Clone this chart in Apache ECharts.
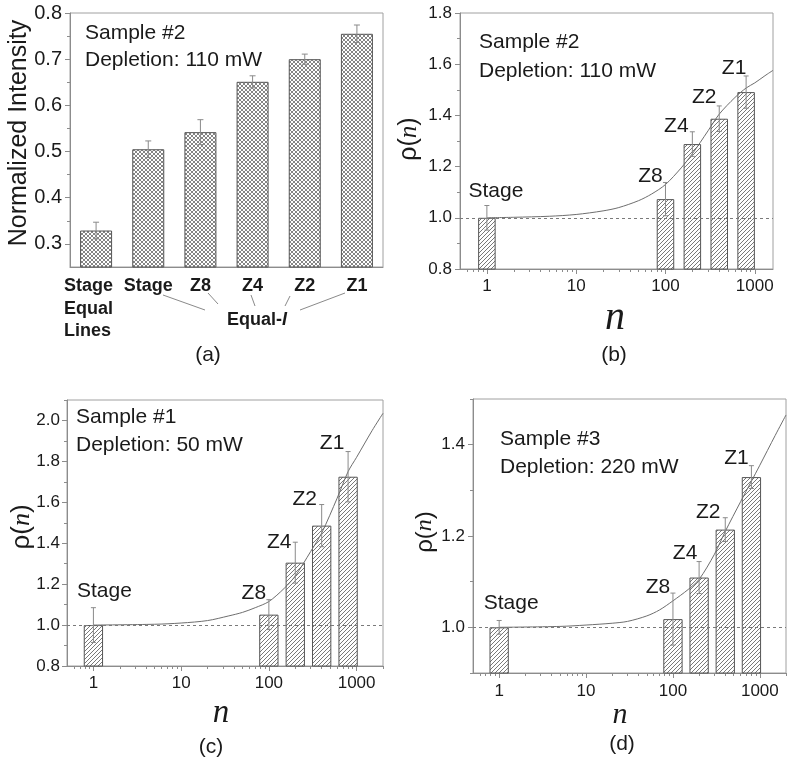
<!DOCTYPE html>
<html><head><meta charset="utf-8">
<script src="https://cdn.jsdelivr.net/npm/echarts@6/dist/echarts.min.js"></script>
<style>html,body{margin:0;padding:0;background:#fff}#c{width:787px;height:766px}</style>
</head><body><div id="c"></div>
<script>
// ---------- Data ----------
// Panel (a)
const aCategories = ['Stage\nEqual\nLines', 'Stage', 'Z8', 'Z4', 'Z2', 'Z1'];
const aValues = [0.329, 0.505, 0.542, 0.651, 0.700, 0.755];
const aErrors = [0.018, 0.018, 0.027, 0.013, 0.011, 0.019];
const aYTicks = [0.3, 0.4, 0.5, 0.6, 0.7, 0.8];
const aYMinor = [0.35, 0.45, 0.55, 0.65, 0.75];

// Panels (b)(c)(d): bars at n
const nValues = [1, 100, 200, 400, 800];
const barNames = ['Stage', 'Z8', 'Z4', 'Z2', 'Z1'];
const xTickLabels = [1, 10, 100, 1000];
const xMinorTicks = [0.6, 0.7, 0.8, 0.9, 2, 3, 4, 5, 6, 7, 8, 9, 20, 30, 40, 50, 60, 70, 80, 90,
                     200, 300, 400, 500, 600, 700, 800, 900, 2000];

// (b) Sample #2, 110 mW
const bValues = [1.000, 1.073, 1.288, 1.387, 1.491];
const bErrors = [0.048, 0.065, 0.048, 0.050, 0.063];
const bCurveN = [1, 2, 5, 10, 20, 30, 50, 70, 100, 150, 200, 300, 400, 600, 800, 1000, 1300, 1600];
const bCurveRho = [1.0, 1.002, 1.006, 1.013, 1.027, 1.04, 1.067, 1.093, 1.13, 1.195, 1.25, 1.34, 1.405, 1.47, 1.507, 1.527, 1.555, 1.576];
const bYTicks = [0.8, 1.0, 1.2, 1.4, 1.6, 1.8];
const bYMinor = [0.9, 1.1, 1.3, 1.5, 1.7];

// (c) Sample #1, 50 mW
const cValues = [1.000, 1.051, 1.305, 1.486, 1.725];
const cErrors = [0.085, 0.073, 0.100, 0.103, 0.123];
const cCurveN = [1, 5, 10, 20, 35, 50, 70, 100, 150, 200, 300, 400, 600, 800, 1000, 1500, 2000];
const cCurveRho = [1.0, 1.004, 1.01, 1.022, 1.045, 1.062, 1.085, 1.115, 1.18, 1.24, 1.36, 1.45, 1.62, 1.75, 1.82, 1.95, 2.035];
const cYTicks = [0.8, 1.0, 1.2, 1.4, 1.6, 1.8, 2.0];
const cYMinor = [0.9, 1.1, 1.3, 1.5, 1.7, 1.9, 2.1];

// (d) Sample #3, 220 mW
const dValues = [1.000, 1.018, 1.109, 1.214, 1.329];
const dErrors = [0.015, 0.057, 0.035, 0.026, 0.025];
const dCurveN = [1, 5, 10, 20, 30, 50, 70, 100, 150, 200, 300, 400, 600, 800, 1000, 1500, 2000];
const dCurveRho = [1.0, 1.002, 1.005, 1.009, 1.013, 1.025, 1.038, 1.058, 1.083, 1.105, 1.16, 1.21, 1.275, 1.32, 1.355, 1.42, 1.465];
const dYTicks = [1.0, 1.2, 1.4];
const dYMinor = [0.9, 1.1, 1.3, 1.5];

// ---------- Styles ----------
const FONT = "'Liberation Sans', Arial, sans-serif";
const SERIF = "'Liberation Serif', 'Times New Roman', serif";
const AXIS = '#8c8c8c';
const TXT = '#1a1a1a';
const L = Math.log10;

function hatch(cross) {
  const c = document.createElement('canvas');
  c.width = 4; c.height = 4;
  const g = c.getContext('2d');
  g.fillStyle = '#fff'; g.fillRect(0, 0, 4, 4);
  g.strokeStyle = cross ? '#666' : '#6a6a6a';
  g.lineWidth = cross ? 0.8 : 0.9;
  g.beginPath();
  g.moveTo(-1, 5); g.lineTo(5, -1);
  g.moveTo(-1, 1); g.lineTo(1, -1);
  g.moveTo(3, 5); g.lineTo(5, 3);
  if (cross) {
    g.moveTo(-1, -1); g.lineTo(5, 5);
    g.moveTo(3, -1); g.lineTo(5, 1);
    g.moveTo(-1, 3); g.lineTo(1, 5);
  }
  g.stroke();
  return { image: c, repeat: 'repeat' };
}
const crossFill = hatch(true);
const lineFill = hatch(false);

const grids = [
  { left: 70, top: 13, width: 313, height: 254 },
  { left: 460, top: 13, width: 313, height: 256 },
  { left: 67, top: 400, width: 316, height: 266 },
  { left: 473, top: 399, width: 313, height: 274 }
].map(g => Object.assign({ show: true, borderColor: '#a0a0a0', borderWidth: 1, backgroundColor: 'transparent' }, g));

const xAxes = [];
const yAxes = [];
const series = [];

// error bars (+ optional name labels above them)
function errSeries(xi, yi, data, cap, names, offsets) {
  return {
    type: 'custom', xAxisIndex: xi, yAxisIndex: yi, z: 6, silent: true,
    renderItem: function (params, api) {
      const x = api.value(0), lo = api.value(1), hi = api.value(2);
      const t = api.coord([x, hi]), b = api.coord([x, lo]);
      const h = cap / 2;
      const st = { stroke: '#8a8a8a', lineWidth: 1 };
      const children = [
        { type: 'line', shape: { x1: t[0], y1: t[1], x2: b[0], y2: b[1] }, style: st },
        { type: 'line', shape: { x1: t[0] - h, y1: t[1], x2: t[0] + h, y2: t[1] }, style: st },
        { type: 'line', shape: { x1: b[0] - h, y1: b[1], x2: b[0] + h, y2: b[1] }, style: st }
      ];
      if (names) {
        const o = offsets[params.dataIndex];
        children.push({ type: 'text', x: t[0] + o[0], y: t[1] + o[1],
          style: { text: names[params.dataIndex], fontFamily: FONT, fontSize: 21, fill: TXT, align: 'center', verticalAlign: 'middle' } });
      }
      return { type: 'group', children: children };
    },
    data: data
  };
}

function yPair(grid, min, max, major, minor, labelSize, margin) {
  const i = yAxes.length;
  yAxes.push({
    type: 'value', gridIndex: grid, min: min, max: max, position: 'left',
    axisLine: { show: true, onZero: false, lineStyle: { color: AXIS, width: 1 } },
    axisTick: { show: true, length: 5, customValues: major, lineStyle: { color: AXIS } },
    axisLabel: { show: true, customValues: major, formatter: v => v.toFixed(1), fontFamily: FONT, fontSize: labelSize, color: TXT, margin: margin },
    splitLine: { show: false }
  });
  yAxes.push({
    type: 'value', gridIndex: grid, min: min, max: max, position: 'left',
    axisLine: { show: false, onZero: false },
    axisTick: { show: true, length: 3, customValues: minor, lineStyle: { color: AXIS } },
    axisLabel: { show: false },
    splitLine: { show: false }
  });
  return i;
}

function xLogPair(grid, minN, maxN, margin) {
  const i = xAxes.length;
  const lo = L(minN), hi = L(maxN);
  const major = xTickLabels.map(L);
  const minor = xMinorTicks.filter(v => v >= minN && v <= maxN).map(L);
  xAxes.push({
    type: 'value', gridIndex: grid, min: lo, max: hi, position: 'bottom',
    axisLine: { show: true, onZero: false, lineStyle: { color: AXIS, width: 1 } },
    axisTick: { show: true, length: 5, customValues: major, lineStyle: { color: AXIS } },
    axisLabel: { show: true, customValues: major, formatter: v => String(Math.round(Math.pow(10, v))), fontFamily: FONT, fontSize: 17, color: TXT, margin: margin },
    splitLine: { show: false }
  });
  xAxes.push({
    type: 'value', gridIndex: grid, min: lo, max: hi, position: 'bottom',
    axisLine: { show: false, onZero: false },
    axisTick: { show: true, length: 3, customValues: minor, lineStyle: { color: AXIS } },
    axisLabel: { show: false },
    splitLine: { show: false }
  });
  return i;
}

// ---- Panel (a)
xAxes.push({
  type: 'category', gridIndex: 0,
  data: aCategories.map((c, i) => i === 0 ? { value: c, textStyle: { align: 'left', padding: [0, 0, 0, -32], lineHeight: 22.5 } } : c),
  axisLine: { show: true, onZero: false, lineStyle: { color: AXIS } },
  axisTick: { show: false },
  axisLabel: { interval: 0, fontFamily: FONT, fontWeight: 'bold', fontSize: 18, color: TXT, margin: 8, lineHeight: 22.5 }
});
const ay = yPair(0, 0.25, 0.8, aYTicks, aYMinor, 20, 8);
series.push({
  type: 'bar', xAxisIndex: 0, yAxisIndex: ay, data: aValues, barWidth: 32, z: 2,
  itemStyle: { color: crossFill, borderColor: '#555', borderWidth: 1 }
});
series.push(errSeries(0, ay, aValues.map((v, i) => [i, v - aErrors[i], v + aErrors[i]]), 6));

// ---- Panels (b)(c)(d)
function logPanel(grid, maxN, vals, errs, curveN, curveRho, yMin, yMax, yMajor, yMinor, barW, offsets, xMargin, yMargin) {
  const xi = xLogPair(grid, 0.5, maxN, xMargin);
  const yi = yPair(grid, yMin, yMax, yMajor, yMinor, 17, yMargin);
  series.push({
    type: 'bar', xAxisIndex: xi, yAxisIndex: yi, barWidth: barW, z: 2,
    data: nValues.map((n, i) => [L(n), vals[i]]),
    itemStyle: { color: lineFill, borderColor: '#555', borderWidth: 1 }
  });
  series.push({
    type: 'line', xAxisIndex: xi, yAxisIndex: yi, z: 4, smooth: 0.3, showSymbol: false, symbol: 'none', silent: true,
    data: curveN.map((n, i) => [L(n), curveRho[i]]),
    lineStyle: { color: '#6e6e6e', width: 1 },
    markLine: {
      silent: true, symbol: ['none', 'none'], label: { show: false },
      lineStyle: { type: [3, 3], color: '#7a7a7a', width: 1 },
      data: [{ yAxis: 1 }]
    }
  });
  series.push(errSeries(xi, yi, nValues.map((n, i) => [L(n), vals[i] - errs[i], vals[i] + errs[i]]), 5, barNames, offsets));
}

logPanel(1, 1600, bValues, bErrors, bCurveN, bCurveRho, 0.8, 1.8, bYTicks, bYMinor, 17.5,
  [[9, -14], [-15, -6], [-16, -6], [-15, -9], [-12, -8]], 9, 8);
logPanel(2, 2000, cValues, cErrors, cCurveN, cCurveRho, 0.8, 2.1, cYTicks, cYMinor, 19.3,
  [[11, -16], [-15, -7], [-16, 0], [-17, -5], [-16, -8]], 9, 7);
logPanel(3, 2000, dValues, dErrors, dCurveN, dCurveRho, 0.9, 1.5, dYTicks, dYMinor, 19.3,
  [[12, -17], [-15, -6], [-14, -8], [-17, -6], [-15, -7]], 10, 8);

// ---------- Annotations ----------
function txt(x, y, s, size, extra) {
  return {
    type: 'text', x: x, y: y, silent: true,
    style: Object.assign({ text: s, fontFamily: FONT, fontSize: size, fill: TXT, align: 'left', verticalAlign: 'middle' }, extra || {})
  };
}
function rho(x, y, size) {
  return {
    type: 'text', x: x, y: y, rotation: Math.PI / 2, silent: true,
    style: {
      text: '{r|ρ}{p|(}{n|n}{p|)}', align: 'center', verticalAlign: 'middle',
      rich: {
        r: { fontFamily: FONT, fontSize: size, fill: TXT },
        p: { fontFamily: FONT, fontSize: size, fill: TXT },
        n: { fontFamily: SERIF, fontStyle: 'italic', fontSize: size, fill: TXT }
      }
    }
  };
}
function nName(x, y, size) {
  return txt(x, y, 'n', size, { fontFamily: SERIF, fontStyle: 'italic', align: 'center' });
}
const seg = (x1, y1, x2, y2) => ({ type: 'line', silent: true, shape: { x1, y1, x2, y2 }, style: { stroke: '#8a8a8a', lineWidth: 1 } });

const graphic = [
  // (a)
  { type: 'text', x: 19, y: 133, rotation: Math.PI / 2, silent: true,
    style: { text: 'Normalized Intensity', fontFamily: FONT, fontSize: 25, fill: TXT, align: 'center', verticalAlign: 'middle' } },
  txt(85, 33, 'Sample #2', 21),
  txt(85, 60, 'Depletion: 110 mW', 21),
  seg(163, 295, 205, 310), seg(208, 293, 218, 304), seg(251, 295, 255, 306), seg(290, 296, 285, 306), seg(345, 293, 300, 310),
  { type: 'text', x: 257, y: 320, silent: true,
    style: { text: '{b|Equal-}{i|I}', align: 'center', verticalAlign: 'middle',
      rich: { b: { fontFamily: FONT, fontWeight: 'bold', fontSize: 18, fill: TXT },
              i: { fontFamily: FONT, fontWeight: 'bold', fontStyle: 'italic', fontSize: 18, fill: TXT } } } },
  txt(208, 355, '(a)', 21, { align: 'center' }),
  // (b)
  rho(409, 139, 25),
  txt(479, 42, 'Sample #2', 21),
  txt(479, 71, 'Depletion: 110 mW', 21),
  nName(615, 318, 40),
  txt(614, 355, '(b)', 21, { align: 'center' }),
  // (c)
  rho(22, 527, 26),
  txt(76, 417, 'Sample #1', 21),
  txt(76, 445, 'Depletion: 50 mW', 21),
  nName(221, 713, 33),
  txt(211, 747, '(c)', 21, { align: 'center' }),
  // (d)
  rho(425, 532, 24),
  txt(500, 439, 'Sample #3', 21),
  txt(500, 467, 'Depletion: 220 mW', 21),
  nName(620, 715, 30),
  txt(622, 744, '(d)', 21, { align: 'center' })
];

const chart = echarts.init(document.getElementById('c'), null, { renderer: 'canvas' });
chart.setOption({
  animation: false,
  backgroundColor: '#fff',
  grid: grids,
  xAxis: xAxes,
  yAxis: yAxes,
  series: series,
  graphic: graphic
});
</script>
</body></html>
